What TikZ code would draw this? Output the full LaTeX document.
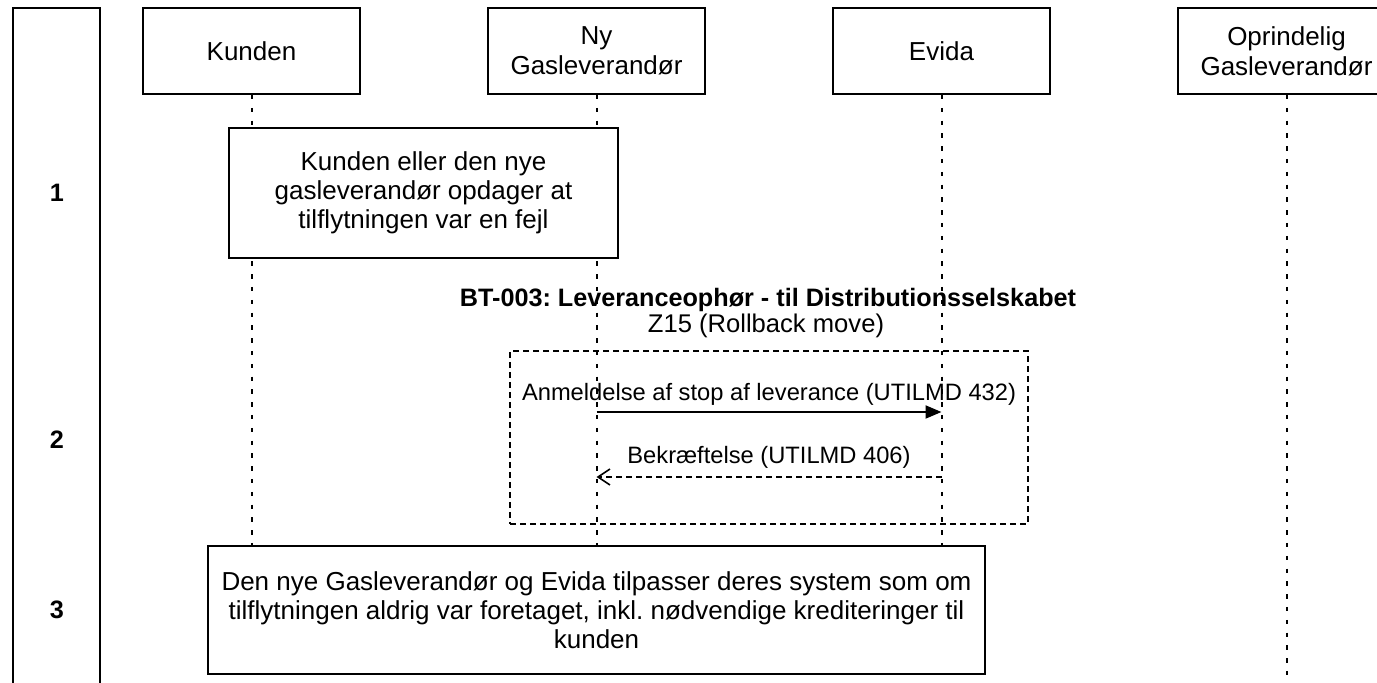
\documentclass[tikz,border=0pt]{standalone}
\usepackage{fontspec}
\setmainfont{Liberation Sans}
\usetikzlibrary{arrows.meta}
\frenchspacing

\begin{document}
\begin{tikzpicture}[x=0.5pt,y=-0.5pt,
    actor/.style={draw,line width=1pt,fill=white,minimum width=108.5pt,minimum height=43pt,
      align=center,inner sep=0pt,font=\fontsize{13}{15}\selectfont},
    stepbox/.style={draw,line width=1pt,fill=white,align=center,inner sep=0pt,
      font=\fontsize{13}{14.6}\selectfont},
    nummer/.style={font=\fontsize{12.6}{15}\selectfont\bfseries},
    lifeline/.style={line width=1pt,dash pattern=on 2.2pt off 4.2pt},
    framebox/.style={draw,line width=0.9pt,dash pattern=on 3pt off 2pt,minimum width=259pt,minimum height=86.5pt},
    msglabel/.style={inner sep=0pt,font=\fontsize{11.85}{14}\selectfont},
    request/.style={line width=1pt,-{Triangle[length=8pt,width=6.5pt]}},
    reply/.style={line width=0.9pt,dash pattern=on 3pt off 2pt,-{Straight Barb[length=6pt,width=8pt,line width=0.8pt]}}]
  \useasboundingbox (0,0) rectangle (1377,683);
  \fill[white] (0,0) rectangle (1377,683);

  \draw[line width=1pt] (13,683) -- (13,8) -- (100,8) -- (100,683);
  \node[nummer] (n1) at (57,193) {1};
  \node[nummer] (n2) at (57,440) {2};
  \node[nummer] (n3) at (57,610) {3};

  \node[actor] (kunde) at (251.5,51) {Kunden};
  \node[actor] (ny) at (596.5,51) {Ny\\Gasleverandør};
  \node[actor] (evida) at (941.5,51) {Evida};
  \node[actor] (oprind) at (1286.5,51) {Oprindelig\\Gasleverandør};

  \coordinate (bund) at (0,683);
  \foreach \n in {kunde,ny,evida,oprind}
    \draw[lifeline] (\n.south) -- (\n |- bund);

  \node[stepbox,minimum width=194.5pt,minimum height=65pt] (trin1) at (423.5,193)
    {Kunden eller den nye\\gasleverandør opdager at\\tilflytningen var en fejl};

  \node[font=\fontsize{12.6}{15}\selectfont\bfseries] (titel) at (768,300)
    {BT-003: Leveranceophør - til Distributionsselskabet};
  \node[font=\fontsize{12.8}{15}\selectfont] (z15) at (766,326) {Z15 (Rollback move)};
  \node[framebox] (ramme) at (769,437.5) {};

  \coordinate (ny1) at (ny |- 0,412);
  \coordinate (ev1) at (evida |- 0,412);
  \coordinate (ny2) at (ny |- 0,477);
  \coordinate (ev2) at (evida |- 0,477);
  \begin{scope}[msglabel]
    \draw[request] (ny1) -- node[msglabel,yshift=9pt] {Anmeldelse af stop af leverance (UTILMD 432)} (ev1);
    \draw[reply] (ev2) -- node[msglabel,yshift=10pt] {Bekræftelse (UTILMD 406)} (ny2);
  \end{scope}

  \node[stepbox,minimum width=388.5pt,minimum height=64pt] (trin3) at (596.5,610)
    {Den nye Gasleverandør og Evida tilpasser deres system som om\\
     tilflytningen aldrig var foretaget, inkl. nødvendige krediteringer til\\kunden};
\end{tikzpicture}
\end{document}
